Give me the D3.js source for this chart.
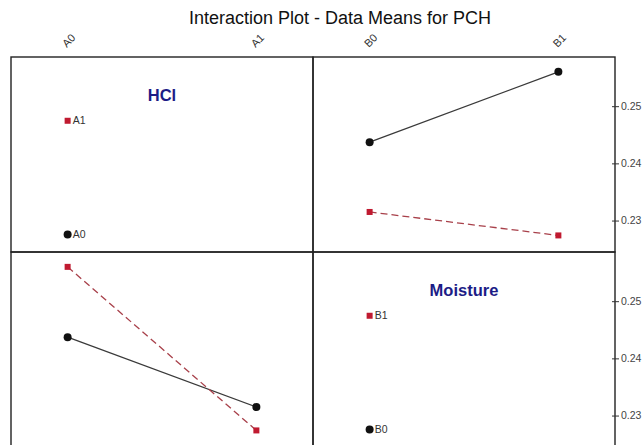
<!DOCTYPE html>
<html>
<head>
<meta charset="utf-8">
<script src="https://cdn.jsdelivr.net/npm/d3@7"></script>
<style>
  body { margin: 0; background: #fff; }
  text { font-family: "Liberation Sans", Arial, sans-serif; }
</style>
</head>
<body>
<div class="chart"></div>
<script>
// factor levels
var hclLevels = ["A0", "A1"];
var moistLevels = ["B0", "B1"];

// cell means of PCH (index = Moisture level B0, B1)
var meansA0 = [0.2437, 0.2560];
var meansA1 = [0.2315, 0.2274];

var yTicks = [0.23, 0.24, 0.25];

var W = 642, H = 445;
var padL = 11, padT = 57, pw = 302, ph = 195;

var svg = d3.select(".chart").append("svg")
    .attr("width", W)
    .attr("height", H);

svg.append("text")
    .attr("x", 340)
    .attr("y", 24)
    .attr("text-anchor", "middle")
    .style("font-size", "18px")
    .attr("fill", "#111")
    .text("Interaction Plot - Data Means for PCH");

var y = d3.scaleLinear().domain([0.2245, 0.2586]).range([ph, 0]);

var xHcl = d3.scalePoint().domain(hclLevels).range([0, pw]).padding(0.3);
var xMoist = d3.scalePoint().domain(moistLevels).range([0, pw]).padding(0.3);

var black = "#111", red = "#c01a30";

// one panel per grid cell
function panel(col, row) {
    return svg.append("g")
        .attr("transform", "translate(" + (padL + col * pw) + "," + (padT + row * ph) + ")");
}

function drawSeries(g, x, levels, vals, color, dashed, shape) {
    var line = d3.line()
        .x(function(d, i) { return x(levels[i]); })
        .y(function(d) { return y(d); });
    g.append("path")
        .datum(vals)
        .attr("d", line)
        .attr("fill", "none")
        .attr("stroke", dashed ? "#a8404a" : "#3a3a3a")
        .attr("stroke-width", 1.3)
        .attr("stroke-dasharray", dashed ? "7,4" : null);
    drawMarkers(g, vals.map(function(v, i) { return [x(levels[i]), y(v)]; }), color, shape);
}

function drawMarkers(g, pts, color, shape) {
    pts.forEach(function(p) {
        if (shape == "circle") {
            g.append("circle")
                .attr("cx", p[0]).attr("cy", p[1]).attr("r", 4)
                .attr("fill", color);
        } else {
            g.append("rect")
                .attr("x", p[0] - 3).attr("y", p[1] - 3)
                .attr("width", 6).attr("height", 6)
                .attr("fill", color);
        }
    });
}

function legend(g, x, levels, title) {
    g.append("text")
        .attr("x", pw / 2)
        .attr("y", 44)
        .attr("text-anchor", "middle")
        .style("font-size", "16.5px")
        .style("font-weight", "bold")
        .attr("fill", "#1c1c86")
        .text(title);
    var ly = [ph * 0.91, ph * 0.327];
    levels.forEach(function(lv, i) {
        var cx = x(levels[0]);
        drawMarkers(g, [[cx, ly[i]]], i == 0 ? black : red, i == 0 ? "circle" : "square");
        g.append("text")
            .attr("x", cx + 5)
            .attr("y", ly[i])
            .attr("dy", "0.35em")
            .style("font-size", "10.5px")
            .attr("fill", "#333")
            .text(lv);
    });
}

// top-left: HCl legend
var p00 = panel(0, 0);
legend(p00, xHcl, hclLevels, "HCl");

// top-right: Moisture on x, one line per HCl level
var p10 = panel(1, 0);
drawSeries(p10, xMoist, moistLevels, meansA0, black, false, "circle");
drawSeries(p10, xMoist, moistLevels, meansA1, red, true, "square");

// bottom-left: HCl on x, one line per Moisture level
var p01 = panel(0, 1);
drawSeries(p01, xHcl, hclLevels, [meansA0[0], meansA1[0]], black, false, "circle");
drawSeries(p01, xHcl, hclLevels, [meansA0[1], meansA1[1]], red, true, "square");

// bottom-right: Moisture legend
var p11 = panel(1, 1);
legend(p11, xMoist, moistLevels, "Moisture");

// frames
[[0, 0], [1, 0], [0, 1], [1, 1]].forEach(function(c) {
    svg.append("rect")
        .attr("x", padL + c[0] * pw)
        .attr("y", padT + c[1] * ph)
        .attr("width", pw)
        .attr("height", ph)
        .attr("fill", "none")
        .attr("stroke", "#222")
        .attr("stroke-width", 1.4);
});

// top category labels
var topLabels = hclLevels.map(function(l) { return [padL + xHcl(l), l]; })
    .concat(moistLevels.map(function(l) { return [padL + pw + xMoist(l), l]; }));
topLabels.forEach(function(t) {
    svg.append("text")
        .attr("transform", "translate(" + (t[0] - 1) + "," + (padT - 9) + ") rotate(-45)")
        .style("font-size", "11px")
        .attr("fill", "#333")
        .text(t[1]);
});

// right axes
[0, 1].forEach(function(r) {
    var ax = svg.append("g")
        .attr("transform", "translate(" + (padL + 2 * pw) + "," + (padT + r * ph) + ")")
        .call(d3.axisRight(y).tickValues(yTicks).tickFormat(d3.format(".2f")).tickSize(4));
    ax.select(".domain").remove();
    ax.selectAll("line").attr("stroke", "#333").attr("x1", -3);
    ax.selectAll("text").attr("x", 6).attr("fill", "#444")
        .style("font-size", "10.5px").style("font-family", "Liberation Sans, Arial, sans-serif");
});
</script>
</body>
</html>
